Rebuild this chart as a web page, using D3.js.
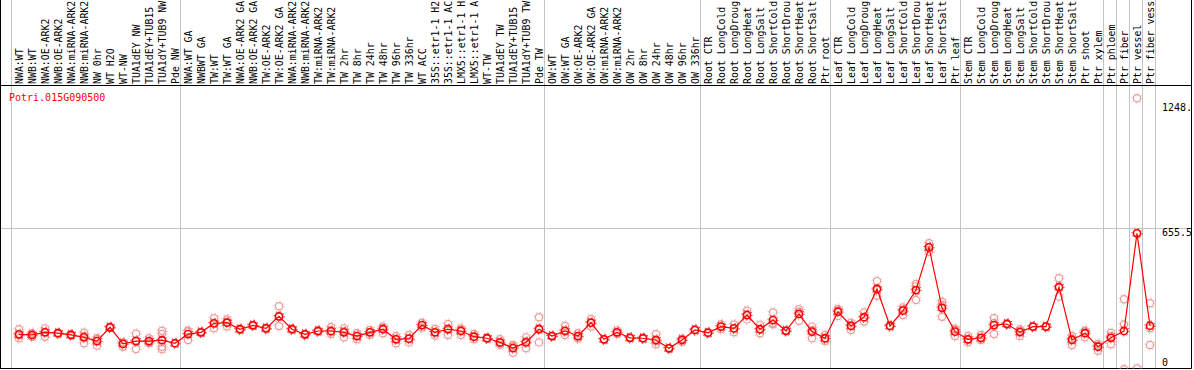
<!DOCTYPE html>
<html>
    <head>
        <title> Potri.015G090500 expression </title>
        <script type="text/javascript" src="https://d3js.org/d3.v7.min.js"></script>
        <style>
            body { margin: 0; background: #ffffff; }
            text { font-family: 'DejaVu Sans Mono', 'Liberation Mono', monospace; font-size: 10px; }
        </style>
    </head>

    <body>
        <div id="my_chart"></div>
    </body>

    <script type="text/javascript">
        // Gene shown in the chart
        var geneName = 'Potri.015G090500';

        // Sample names (one column each), left to right
        var categories = [
            'NWA:WT', 'NWB:WT', 'NWA:OE-ARK2', 'NWB:OE-ARK2', 'NWA:miRNA-ARK2', 'NWB:miRNA-ARK2',
            'NW 0hr', 'WT H2O', 'WT-NW', 'TUA1dEY NW', 'TUA1dEY+TUB15 NW', 'TUA1dY+TUB9 NW', 'Pde NW',
            'NWA:WT GA', 'NWBWT GA', 'TW:WT', 'TW:WT GA', 'NWA:OE-ARK2 GA', 'NWB:OE-ARK2 GA',
            'TW:OE-ARK2', 'TW:OE-ARK2 GA', 'NWA:miRNA-ARK2 GA', 'NWB:miRNA-ARK2 GA', 'TW:miRNA-ARK2',
            'TW:miRNA-ARK2 GA', 'TW 2hr', 'TW 8hr', 'TW 24hr', 'TW 48hr', 'TW 96hr', 'TW 336hr',
            'WT ACC', '35S::etr1-1 H2O', '35S::etr1-1 ACC', 'LMX5::etr1-1 H2O', 'LMX5::etr1-1 ACC',
            'WT-TW', 'TUA1dEY TW', 'TUA1dEY+TUB15 TW', 'TUA1dY+TUB9 TW', 'Pde TW',
            'OW:WT', 'OW:WT GA', 'OW:OE-ARK2', 'OW:OE-ARK2 GA', 'OW:miRNA-ARK2', 'OW:miRNA-ARK2 GA',
            'OW 2hr', 'OW 8hr', 'OW 24hr', 'OW 48hr', 'OW 96hr', 'OW 336hr',
            'Root CTR', 'Root LongCold', 'Root LongDrought', 'Root LongHeat', 'Root LongSalt',
            'Root ShortCold', 'Root ShortDrought', 'Root ShortHeat', 'Root ShortSalt', 'Ptr root',
            'Leaf CTR', 'Leaf LongCold', 'Leaf LongDrought', 'Leaf LongHeat', 'Leaf LongSalt',
            'Leaf ShortCold', 'Leaf ShortDrought', 'Leaf ShortHeat', 'Leaf ShortSalt', 'Ptr leaf',
            'Stem CTR', 'Stem LongCold', 'Stem LongDrought', 'Stem LongHeat', 'Stem LongSalt',
            'Stem ShortCold', 'Stem ShortDrought', 'Stem ShortHeat', 'Stem ShortSalt', 'Ptr shoot',
            'Ptr xylem', 'Ptr phloem', 'Ptr fiber', 'Ptr vessel', 'Ptr fiber vessel'
        ];

        // Mean expression level of each sample
        var means = [
            170, 167, 179, 175, 167, 156, 139, 202, 126, 139, 139, 143, 129,
            171, 179, 220, 223, 193, 211, 197, 252, 193, 170, 185, 185, 179, 162, 179, 193, 147,
            150, 212, 179, 193, 185, 159, 152, 133, 107, 133, 193,
            162, 186, 162, 223, 147, 179, 154, 152, 144, 106, 144, 190,
            177, 205, 197, 258, 193, 235, 186, 263, 182, 152,
            273, 208, 248, 377, 208, 278, 372, 567, 291, 182,
            147, 154, 212, 217, 180, 205, 205, 385, 144, 175,
            113, 154, 185, 631, 209
        ];

        // Replicate values of each sample (the pale circles)
        var replicates = [
            [193, 165, 152], [175, 166, 159], [197, 181, 159], [175, 172, 178], [167, 163, 171], [177, 162, 129],
            [152, 147, 118], [202, 199, 205], [113, 132, 133], [173, 141, 103], [152, 136, 129], [186, 171, 113, 102], [129],
            [186, 183, 144], [179, 176, 182], [243, 220, 197], [238, 226, 205], [193, 190, 196], [211, 208, 214],
            [197, 194, 200], [298, 250, 208], [193, 190, 196], [170, 167, 173], [185, 182, 188],
            [202, 182, 171], [197, 184, 156], [175, 164, 147], [190, 180, 167], [205, 199, 175], [162, 150, 129],
            [167, 150, 133], [223, 212, 201], [194, 179, 164], [217, 195, 167], [197, 191, 167], [171, 159, 147],
            [152, 150, 154], [147, 130, 122], [121, 114, 86], [156, 137, 106], [248, 198, 133],
            [162, 160, 164], [208, 183, 167], [175, 160, 151], [240, 223, 205], [147, 145, 149], [188, 179, 171],
            [154, 152, 156], [152, 150, 154], [170, 138, 124], [106, 104, 108], [150, 146, 136], [190, 188, 192],
            [177, 175, 179], [216, 205, 194], [215, 197, 179], [278, 258, 238], [212, 192, 175],
            [270, 220, 216], [186, 184, 188], [284, 273, 232], [205, 189, 152], [167, 150, 139],
            [286, 279, 254], [223, 211, 190], [270, 246, 228], [413, 372, 346], [208, 206, 210],
            [293, 283, 258], [400, 389, 327], [586, 568, 547], [319, 304, 250], [195, 189, 162],
            [162, 145, 134], [167, 151, 144], [243, 222, 171], [217, 215, 219], [193, 185, 162],
            [205, 203, 207], [205, 203, 207], [426, 387, 342], [162, 149, 121], [186, 183, 156],
            [126, 118, 95], [177, 161, 124], [330, 215, 10], [1248, 14], [312, 197, 121]
        ];

        // Column indexes where a new group of samples starts (gray separators)
        var groupBreaks = [0, 13, 41, 53, 63, 73, 84, 85, 86, 87, 88];

        // Right side value labels
        var yTicks = [1248, 655.5, 0];
        var yTickLabels = ['1248.', '655.5', '0'];

        var svg_size = {width: 1194, height: 370};
        var labelBottom = 84;   // text of the sample names ends here
        var labelChars = 14;    // the header only has room for this many characters
        var frameTop = 85.5;    // black line under the sample names
        var frameBottom = 368.5;
        var frameRight = 1191.5;

        var red = '#ff0000';
        var pale = '#eb9a9a';
        var grid = '#c4c4c4';

        generateVisualization();

        function generateVisualization(){
            var svg = d3.select('#my_chart')
                        .append('svg')
                        .attr('width', svg_size.width)
                        .attr('height', svg_size.height);

            // One band of 13px per sample
            var x = d3.scaleBand()
                      .domain(d3.range(categories.length))
                      .range([11, 11 + 13 * categories.length]);
            // centre of a column
            var cx = function(i){ return x(i) + 8; };

            var y = d3.scaleLinear()
                      .domain([0, 1248])
                      .range([371.5, 98.3]);

            // gray vertical separators between groups
            svg.append('g')
               .selectAll('line')
               .data(groupBreaks)
               .enter()
               .append('line')
               .attr('x1', function(d){ return (d < categories.length ? x(d) : x.range()[1]) + 0.5; })
               .attr('x2', function(d){ return (d < categories.length ? x(d) : x.range()[1]) + 0.5; })
               .attr('y1', 0)
               .attr('y2', frameBottom)
               .attr('stroke', grid)
               .attr('stroke-width', 1);

            // gray horizontal line at the middle value
            svg.append('line')
               .attr('x1', 1).attr('x2', frameRight)
               .attr('y1', Math.round(y(yTicks[1])) + 0.5)
               .attr('y2', Math.round(y(yTicks[1])) + 0.5)
               .attr('stroke', grid)
               .attr('stroke-width', 1);

            // sample names, rotated, shortened to what fits in the header
            svg.append('g')
               .selectAll('text')
               .data(categories)
               .enter()
               .append('text')
               .attr('transform', function(d, i){ return 'translate(' + (x(i) + 12) + ',' + labelBottom + ') rotate(-90)'; })
               .attr('fill', '#000')
               .style('font-size', '9.9px')
               .text(function(d){ return d.slice(0, labelChars).trim(); });

            // black frame lines
            var frame = svg.append('g').attr('stroke', '#000').attr('stroke-width', 1);
            frame.append('line').attr('x1', 0.5).attr('x2', 0.5).attr('y1', 0).attr('y2', frameBottom);
            frame.append('line').attr('x1', 0).attr('x2', frameRight).attr('y1', frameTop).attr('y2', frameTop);
            frame.append('line').attr('x1', 0).attr('x2', frameRight).attr('y1', frameBottom).attr('y2', frameBottom);
            frame.append('line').attr('x1', frameRight).attr('x2', frameRight).attr('y1', 0).attr('y2', frameBottom);

            // gene name
            svg.append('text')
               .attr('x', 9)
               .attr('y', 100.5)
               .attr('fill', red)
               .text(geneName);

            // value labels on the right
            svg.append('g')
               .selectAll('text')
               .data(yTicks)
               .enter()
               .append('text')
               .attr('x', 1162)
               .attr('y', function(d){ return Math.min(Math.max(y(d) + 8, 111), 366); })
               .attr('fill', '#000')
               .text(function(d, i){ return yTickLabels[i]; });

            // plot area is clipped to the frame
            svg.append('clipPath').attr('id', 'plotclip')
               .append('rect').attr('x', 1).attr('y', frameTop).attr('width', frameRight - 1).attr('height', frameBottom - frameTop);
            var plot = svg.append('g').attr('clip-path', 'url(#plotclip)');

            // a circle with small spikes around it
            function marker(g, color, width){
                g.append('circle')
                 .attr('r', 3.6)
                 .attr('fill', 'none')
                 .attr('stroke', color)
                 .attr('stroke-width', width);
                g.append('circle')
                 .attr('r', 5)
                 .attr('fill', 'none')
                 .attr('stroke', color)
                 .attr('stroke-width', 1)
                 .attr('stroke-dasharray', '1 2.93');
            }

            // replicate points
            var reps = [];
            replicates.forEach(function(list, i){
                list.forEach(function(v){ reps.push({i: i, v: v}); });
            });
            plot.append('g')
                .selectAll('g')
                .data(reps)
                .enter()
                .append('g')
                .attr('transform', function(d){ return 'translate(' + cx(d.i) + ',' + y(d.v) + ')'; })
                .each(function(){ marker(d3.select(this), pale, 1.2); });

            // line through the means
            var line = d3.line()
                         .x(function(d, i){ return cx(i); })
                         .y(function(d){ return y(d); });
            plot.append('path')
                .datum(means)
                .attr('d', line)
                .attr('fill', 'none')
                .attr('stroke', red)
                .attr('stroke-width', 1.2);

            // mean points
            plot.append('g')
                .selectAll('g')
                .data(means)
                .enter()
                .append('g')
                .attr('transform', function(d, i){ return 'translate(' + cx(i) + ',' + y(d) + ')'; })
                .each(function(){ marker(d3.select(this), red, 1.6); });
        }
    </script>
</html>
